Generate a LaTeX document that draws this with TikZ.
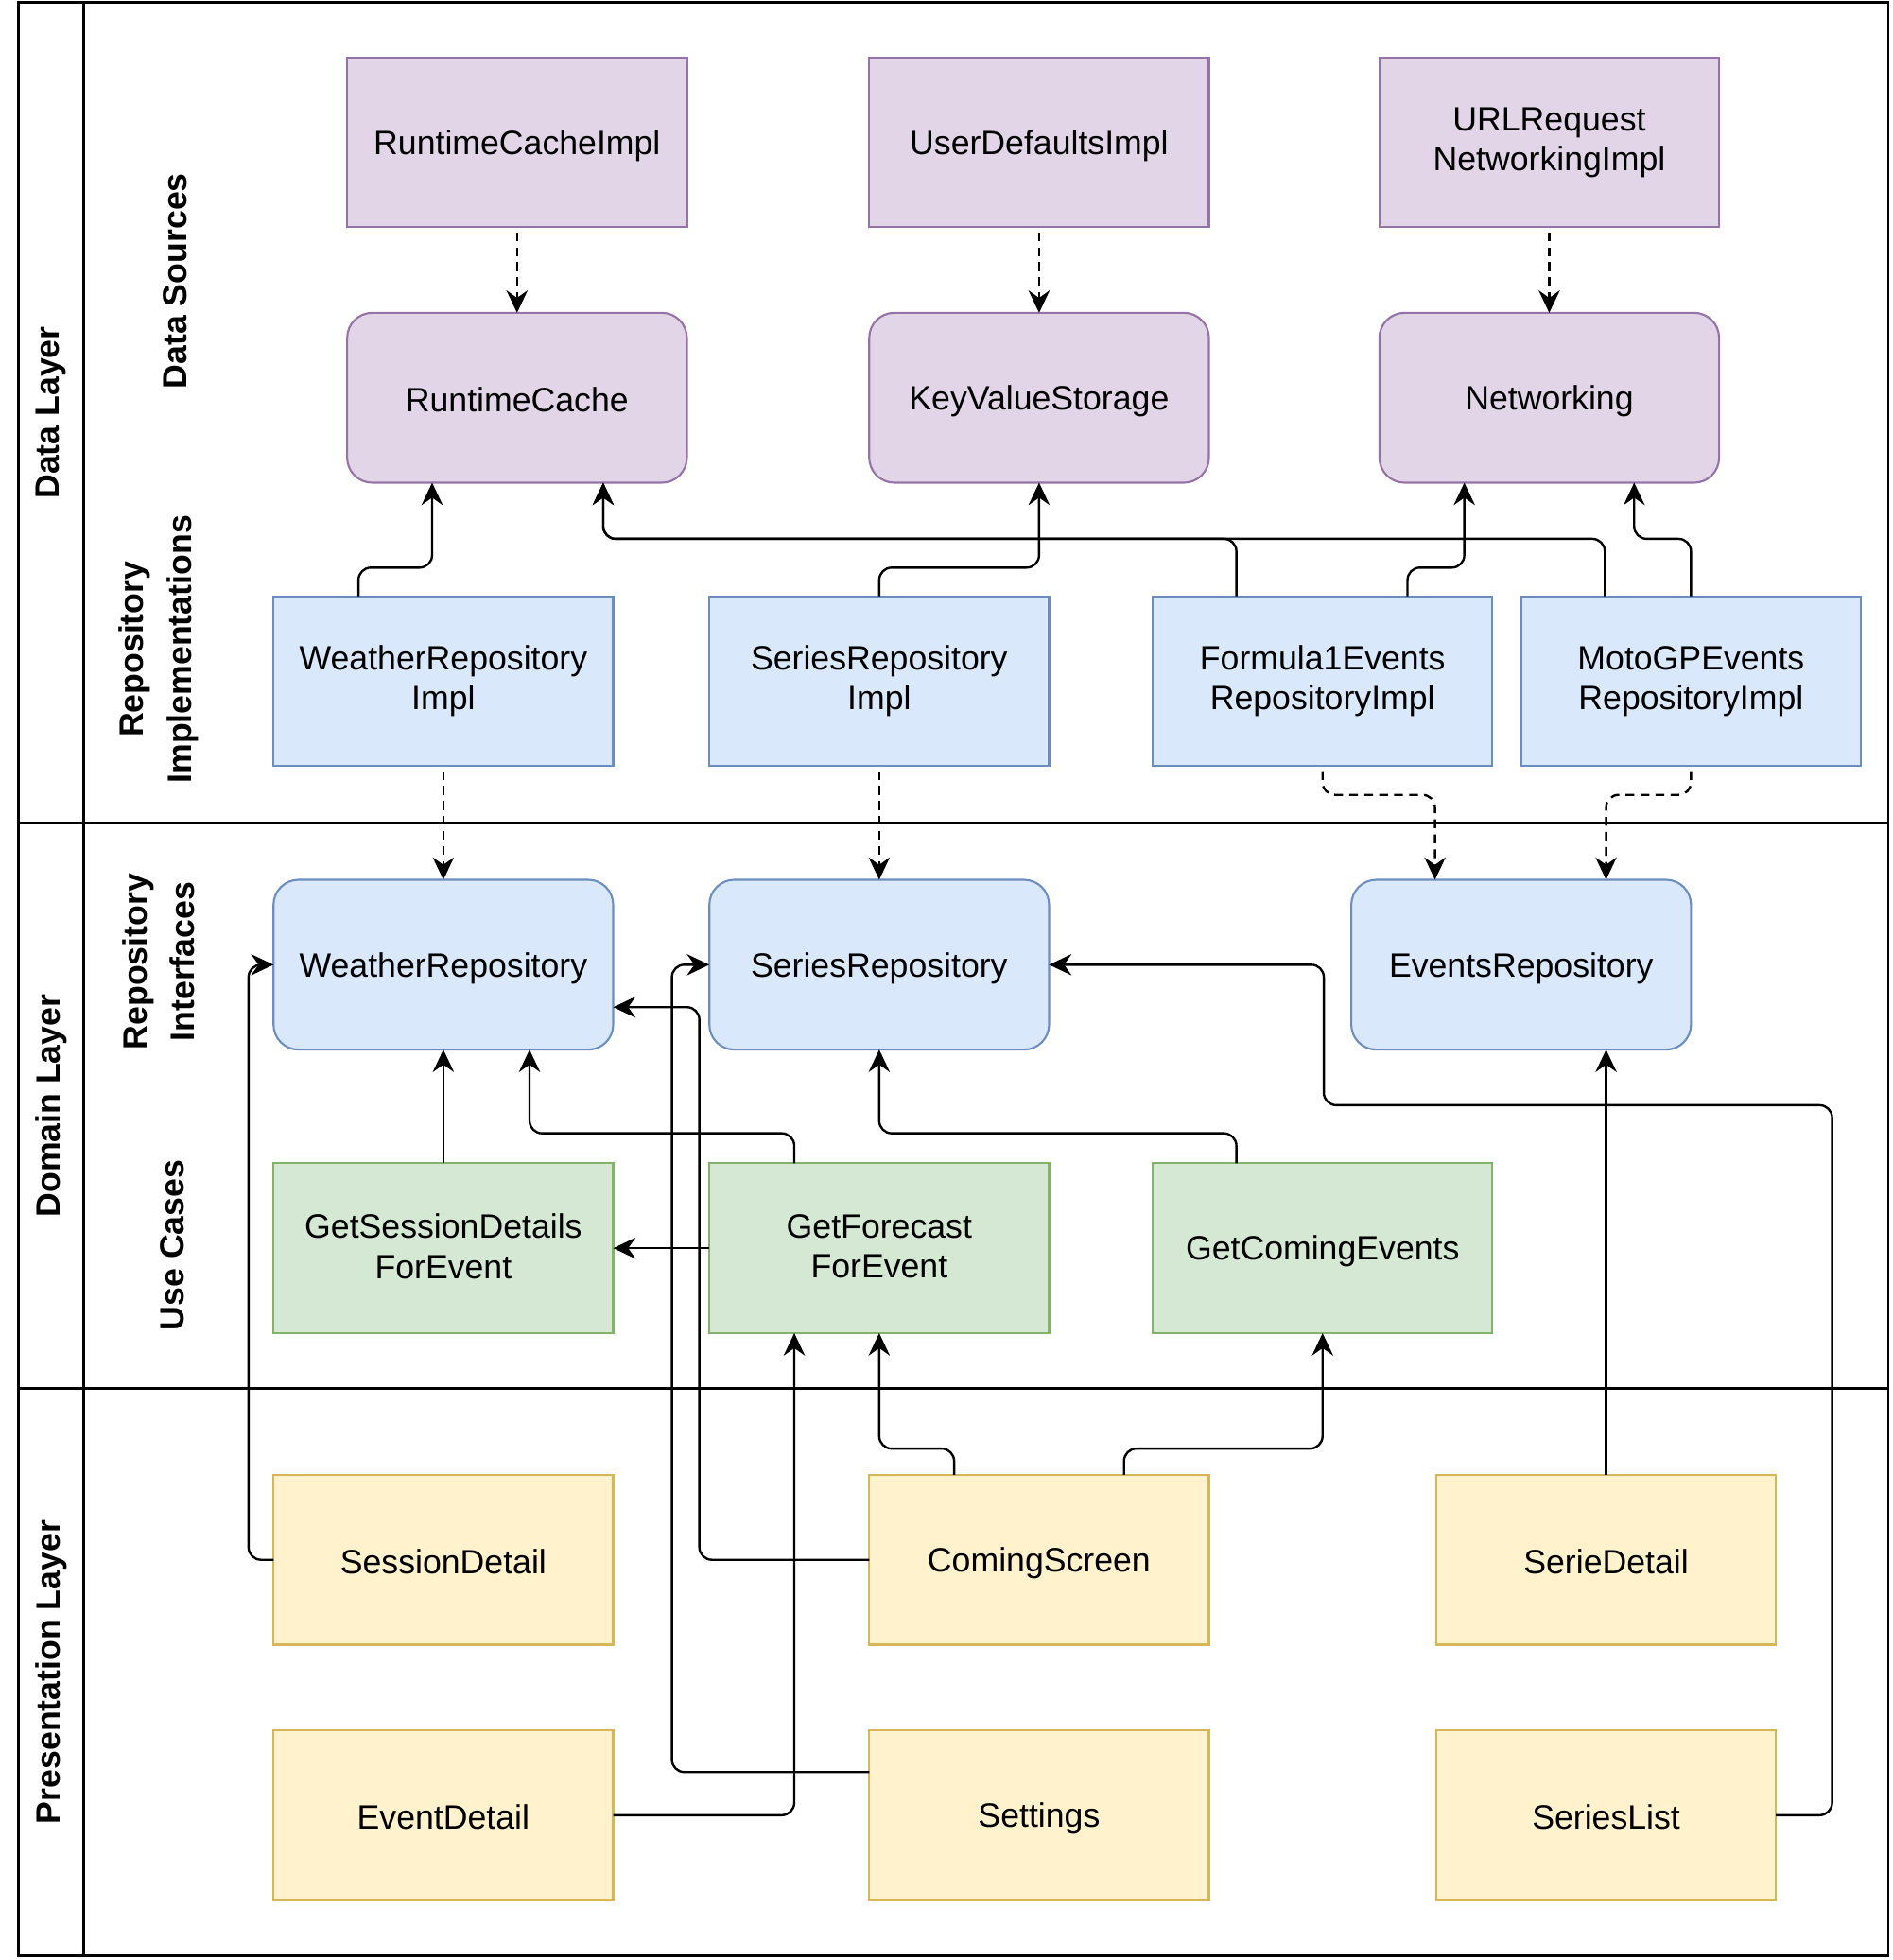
\documentclass[tikz,border=0pt]{standalone}
\usepackage{fontspec}
\setmainfont{Liberation Sans}
\usetikzlibrary{arrows.meta,calc}
\definecolor{dsfill}{HTML}{E1D5E7}\definecolor{dsdraw}{HTML}{9673A6}
\definecolor{rifill}{HTML}{DAE8FC}\definecolor{ridraw}{HTML}{6C8EBF}
\definecolor{ucfill}{HTML}{D5E8D4}\definecolor{ucdraw}{HTML}{82B366}
\definecolor{plfill}{HTML}{FFF2CC}\definecolor{pldraw}{HTML}{D6B656}
\newcommand\bxstrut{\rule[-3pt]{0pt}{28pt}}
\begin{document}
\begin{tikzpicture}[x=1pt,y=-1pt,
  box/.style={minimum width=272pt,minimum height=136pt,inner sep=0pt,outer sep=0pt,line width=1.6pt,align=center,font=\fontsize{27}{32}\selectfont,execute at begin node={\bxstrut},execute at end node={\bxstrut}},
  dsbox/.style={box,fill=dsfill,draw=dsdraw},
  dsround/.style={dsbox,rounded corners=20pt},
  ribox/.style={box,fill=rifill,draw=ridraw},
  riround/.style={ribox,rounded corners=20pt},
  ucbox/.style={box,fill=ucfill,draw=ucdraw},
  plbox/.style={box,fill=plfill,draw=pldraw},
  frameline/.style={line width=2pt},
  layerlabel/.style={rotate=90,font=\bfseries\fontsize{27}{38}\selectfont,align=center,inner sep=0pt},
  conn/.style={line width=1.8pt,rounded corners=10pt,-{Stealth[length=18pt,width=17pt,inset=6pt]}},
  dconn/.style={conn,dash pattern=on 7pt off 5pt}]
\useasboundingbox (0,0) rectangle (1515,1569.5);
% frame
\draw[frameline] (15,2) rectangle (1512,1566);
\draw[frameline] (67,2) -- (67,1566);
\draw[frameline] (15,659) -- (1512,659);
\draw[frameline] (15,1112) -- (1512,1112);
% labels
\node[layerlabel] (lData) at (41,330.5) {Data Layer};
\node[layerlabel] (lDomain) at (41,885.5) {Domain Layer};
\node[layerlabel] (lPres) at (41,1339) {Presentation Layer};
\node[layerlabel] (lDS) at (140,225) {Data Sources};
\node[layerlabel] (lRI) at (127,520) {Repository\\Implementations};
\node[layerlabel] (lRIf) at (127,770) {Repository\\Interfaces};
\node[layerlabel] (lUC) at (138,997) {Use Cases};
% nodes
\node[dsbox] (rci) at (414,114) {RuntimeCacheImpl};
\node[dsbox] (udi) at (832,114) {UserDefaultsImpl};
\node[dsbox] (urli) at (1240.5,114) {URLRequest\\NetworkingImpl};
\node[dsround] (rc) at (414,318.5) {RuntimeCache};
\node[dsround] (kvs) at (832,318.5) {KeyValueStorage};
\node[dsround] (net) at (1240.5,318.5) {Networking};
\node[ribox] (wri) at (355,545.5) {WeatherRepository\\Impl};
\node[ribox] (sri) at (704,545.5) {SeriesRepository\\Impl};
\node[ribox] (f1) at (1059,545.5) {Formula1Events\\RepositoryImpl};
\node[ribox] (moto) at (1354,545.5) {MotoGPEvents\\RepositoryImpl};
\node[riround] (wr) at (355,772.5) {WeatherRepository};
\node[riround] (sr) at (704,772.5) {SeriesRepository};
\node[riround] (er) at (1218,772.5) {EventsRepository};
\node[ucbox] (gsd) at (355,999.5) {GetSessionDetails\\ForEvent};
\node[ucbox] (gf) at (704,999.5) {GetForecast\\ForEvent};
\node[ucbox] (gce) at (1059,999.5) {GetComingEvents};
\node[plbox] (sd) at (355,1249) {SessionDetail};
\node[plbox] (cs) at (832,1249) {ComingScreen};
\node[plbox] (sdet) at (1286,1249) {SerieDetail};
\node[plbox] (ed) at (355,1453.5) {EventDetail};
\node[plbox] (st) at (832,1453.5) {Settings};
\node[plbox] (sl) at (1286,1453.5) {SeriesList};
% data source impl -> interfaces
\draw[dconn] ([yshift=-4pt]rci.south) -- (rc.north);
\draw[dconn] ([yshift=-4pt]udi.south) -- (kvs.north);
\draw[dconn] ([yshift=-4pt]urli.south) -- (net.north);
% repository impls -> data sources
\draw[conn] ([xshift=68pt]wri.north west) -- ++(0,-23) -| ([xshift=68pt]rc.south west);
\draw[conn] (sri.north) -- ++(0,-23) -| (kvs.south);
\draw[conn] ([xshift=67pt]f1.north west) -- ++(0,-46) -| ([xshift=205pt]rc.south west);
\draw[conn] ([xshift=204pt]f1.north west) -- ++(0,-23) -| ([xshift=68pt]net.south west);
\draw[conn] ([xshift=67pt]moto.north west) -- ++(0,-46) -| ([xshift=205pt]rc.south west);
\draw[conn] (moto.north) -- ++(0,-46) -| ([xshift=204pt]net.south west);
% repository impls -> interfaces
\draw[dconn] ([yshift=-4pt]wri.south) -- (wr.north);
\draw[dconn] ([yshift=-4pt]sri.south) -- (sr.north);
\draw[dconn] ([yshift=-4pt]f1.south) -- ++(0,19) -| ([xshift=67pt]er.north west);
\draw[dconn] ([yshift=-4pt]moto.south) -- ++(0,19) -| ([xshift=204pt]er.north west);
% use cases
\draw[conn] (gsd.north) -- (wr.south);
\draw[conn] ([xshift=68pt]gf.north west) -- ++(0,-24) -| ([xshift=205pt]wr.south west);
\draw[conn] (gf.west) -- (gsd.east);
\draw[conn] ([xshift=67pt]gce.north west) -- ++(0,-24) -| (sr.south);
% presentation
\draw[conn] (sd.west) -- ++(-20,0) |- (wr.west);
\draw[conn] ([xshift=68pt]cs.north west) -- ++(0,-21) -| (gf.south);
\draw[conn] ([xshift=204pt]cs.north west) -- ++(0,-21) -| (gce.south);
\draw[conn] (cs.west) -- ++(-136,0) |- ([yshift=-34pt]wr.east);
\draw[conn] (ed.east) -| ([xshift=68pt]gf.south west);
\draw[conn] ([yshift=34.5pt]st.west) -- ++(-158,0) |- (sr.west);
\draw[conn] (sdet.north) -- (sdet.north |- er.south);
\draw[conn] (sl.east) -- ++(45,0) -- ++(0,-568.5) -- ++(-407,0) |- (sr.east);
\end{tikzpicture}
\end{document}
